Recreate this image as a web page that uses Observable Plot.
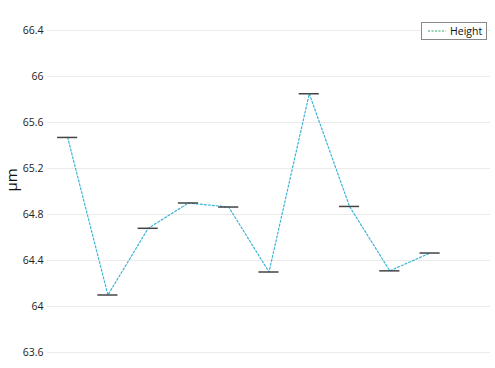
<!DOCTYPE html>
<html>
<head>
<meta charset="utf-8">
<script src="https://cdn.jsdelivr.net/npm/d3@7"></script>
<script src="https://cdn.jsdelivr.net/npm/@observablehq/plot@0.6"></script>
<style>
  html, body { margin: 0; padding: 0; background: #fff; }
  #chart { position: relative; width: 495px; height: 368px; font-family: "Open Sans", sans-serif; }
  #legend {
    position: absolute; left: 421px; top: 22px; width: 64px; height: 16px;
    border: 1px solid #888; background: #fff; font-size: 10.5px; color: #111;
    display: flex; align-items: center; box-sizing: content-box;
  }
  #legend svg { margin-left: 6px; margin-right: 4px; }
</style>
</head>
<body>
<div id="chart"></div>
<script>
// Sample index and measured height (µm)
const samples = [1, 2, 3, 4, 5, 6, 7, 8, 9, 10];
const heights = [65.47, 64.10, 64.68, 64.90, 64.865, 64.30, 65.85, 64.87, 64.31, 64.465];
const yTicks = [63.6, 64, 64.4, 64.8, 65.2, 65.6, 66, 66.4];
const seriesName = "Height";
const unitLabel = "µm";

const data = samples.map((s, i) => ({sample: s, height: heights[i]}));
const capHalf = 0.25;

const plot = Plot.plot({
  width: 495,
  height: 368,
  marginTop: 30,
  marginBottom: 16,
  marginLeft: 47,
  marginRight: 5,
  style: {fontFamily: "Open Sans, sans-serif", fontSize: "10.5px", color: "#222", background: "#fff"},
  x: {domain: [0.5, 11.5], axis: null},
  y: {domain: [63.6, 66.4], axis: null},
  marks: [
    Plot.gridY(yTicks, {stroke: "#ebebeb", strokeOpacity: 1, strokeWidth: 1}),
    Plot.axisY(yTicks, {tickSize: 0, tickPadding: 4, label: null, tickFormat: d => String(d), fill: "#222"}),
    Plot.text([unitLabel], {frameAnchor: "left", rotate: -90, dx: -35, fontSize: 15, fill: "#111"}),
    Plot.line(data, {x: "sample", y: "height", stroke: "#3ab4d6", strokeWidth: 1.2, strokeDasharray: "2,2"}),
    Plot.ruleY(data, {
      y: "height",
      x1: Plot.valueof(data, d => d.sample - capHalf),
      x2: Plot.valueof(data, d => d.sample + capHalf),
      stroke: "#444", strokeWidth: 1.5
    })
  ]
});

const chart = document.getElementById("chart");
chart.appendChild(plot);

const legend = document.createElement("div");
legend.id = "legend";
legend.innerHTML = `<svg width="18" height="4"><line x1="0" y1="2" x2="18" y2="2" stroke="#2aa860" stroke-width="1.2" stroke-dasharray="2,1.5"></line></svg><span></span>`;
legend.querySelector("span").textContent = seriesName;
chart.appendChild(legend);
</script>
</body>
</html>
